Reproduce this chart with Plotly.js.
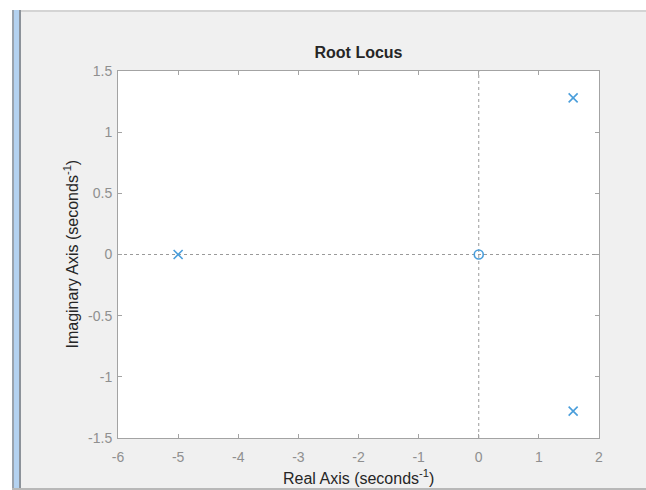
<!DOCTYPE html>
<html>
<head>
<meta charset="utf-8">
<script src="https://cdn.plot.ly/plotly-3.0.1.min.js"></script>
<style>
  html, body { margin: 0; padding: 0; background: #ffffff; width: 646px; height: 490px; overflow: hidden; }
  #topline { position: absolute; left: 12px; top: 10px; width: 634px; height: 2px; background: #d4d4d4; }
  #leftbar { position: absolute; left: 12px; top: 10px; width: 9px; height: 480px; box-sizing: border-box;
             border-left: 2px solid #9aa3ad; border-right: 2px solid #8c9299; background: #b4d2f0; z-index: 2; }
  #bottomline { position: absolute; left: 12px; top: 488px; width: 634px; height: 2px; background: #b8b8b8; z-index: 2; }
  #chart { position: absolute; left: 21px; top: 12px; width: 625px; height: 478px; }
</style>
</head>
<body>
<div id="topline"></div>
<div id="leftbar"></div>
<div id="chart"></div>
<div id="bottomline"></div>
<script>
// Poles (x) and zeros (o) of the system
const poleReal = [-5, 1.57, 1.57];
const poleImag = [0, 1.28, -1.28];
const zeroReal = [0];
const zeroImag = [0];

const xTicks = [-6, -5, -4, -3, -2, -1, 0, 1, 2];
const yTicks = [-1.5, -1, -0.5, 0, 0.5, 1, 1.5];
const xTickText = ['-6', '-5', '-4', '-3', '-2', '-1', '0', '1', '2'];
const yTickText = ['-1.5', '-1', '-0.5', '0', '0.5', '1', '1.5'];

const markColor = '#4a9edb';
const axisColor = '#a3a3a3';
const tickFontColor = '#8f8f8f';
const FONT = 'Liberation Sans, Arial, sans-serif';

const traces = [
  {
    x: poleReal, y: poleImag, type: 'scatter', mode: 'markers',
    marker: { symbol: 'x-thin', size: 9, color: markColor, line: { color: markColor, width: 1.6 } },
    hoverinfo: 'x+y', showlegend: false
  },
  {
    x: zeroReal, y: zeroImag, type: 'scatter', mode: 'markers',
    marker: { symbol: 'circle-open', size: 9, color: markColor, line: { color: markColor, width: 1.6 } },
    hoverinfo: 'x+y', showlegend: false
  }
];

const axisCommon = {
  showgrid: false, zeroline: false, showline: true, linecolor: axisColor, linewidth: 1,
  mirror: 'ticks', ticks: 'inside', ticklen: 4, tickcolor: axisColor, tickwidth: 1,
  tickfont: { family: FONT, size: 14, color: tickFontColor },
  tickmode: 'array', fixedrange: true
};

const layout = {
  width: 625, height: 478,
  paper_bgcolor: '#f0f0f0', plot_bgcolor: '#ffffff',
  margin: { l: 97, r: 47, t: 59, b: 52 },
  font: { family: FONT },
  title: {
    text: '<b>Root Locus</b>', x: 0.5, xref: 'paper', xanchor: 'center',
    y: 1 - 40 / 478, yref: 'container', yanchor: 'middle',
    font: { family: FONT, size: 16, color: '#262626' }
  },
  xaxis: Object.assign({}, axisCommon, {
    range: [-6, 2], tickvals: xTicks, ticktext: xTickText, ticklabelstandoff: 6
  }),
  yaxis: Object.assign({}, axisCommon, {
    range: [-1.5, 1.5], tickvals: yTicks, ticktext: yTickText, ticklabelstandoff: 2
  }),
  shapes: [
    { type: 'line', xref: 'x', yref: 'y domain', x0: 0, x1: 0, y0: 0, y1: 1,
      line: { color: '#9a9a9a', width: 1, dash: 'dot' }, layer: 'below' },
    { type: 'line', xref: 'x domain', yref: 'y', x0: 0, x1: 1, y0: 0, y1: 0,
      line: { color: '#9a9a9a', width: 1, dash: 'dot' }, layer: 'below' }
  ],
  annotations: [
    { text: 'Real Axis (seconds<sup>-1</sup>)', xref: 'paper', yref: 'paper', x: 0.5, y: 0,
      xanchor: 'center', yanchor: 'middle', yshift: -39, showarrow: false,
      font: { family: FONT, size: 16, color: '#262626' } },
    { text: 'Imaginary Axis (seconds<sup>-1</sup>)', xref: 'paper', yref: 'paper', x: 0, y: 0.5,
      xanchor: 'center', yanchor: 'middle', xshift: -47, textangle: -90, showarrow: false,
      font: { family: FONT, size: 16, color: '#262626' } }
  ]
};

Plotly.newPlot('chart', traces, layout, { displayModeBar: false, staticPlot: true });
</script>
</body>
</html>
